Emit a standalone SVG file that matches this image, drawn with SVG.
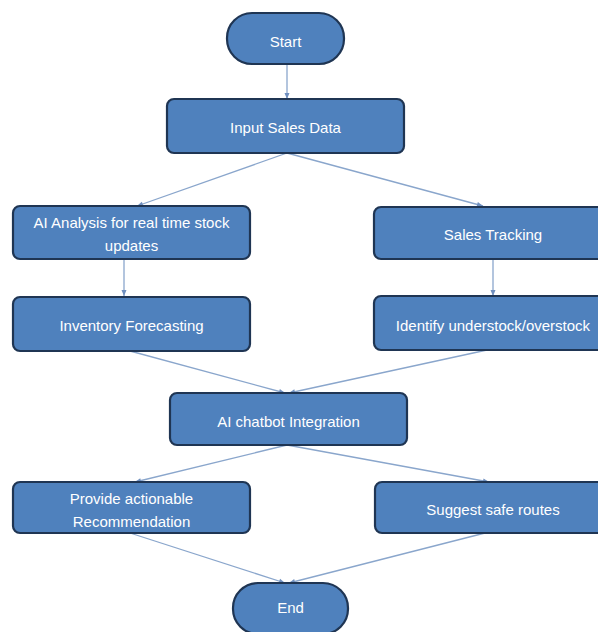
<svg xmlns="http://www.w3.org/2000/svg" width="598" height="632" viewBox="0 0 598 632">
<defs>
<marker id="ah" markerWidth="8" markerHeight="8" refX="7" refY="4" orient="auto" markerUnits="userSpaceOnUse">
<path d="M1,1.5 L7,4 L1,6.5 Z" fill="#6f8fbf"/>
</marker>
<style>
.box{fill:#4f81bd;stroke:#1f3553;stroke-width:2.2}
.t{fill:#ffffff;font-family:"Liberation Sans",Arial,sans-serif;font-size:15px;text-anchor:middle}
.c{stroke:#8aa6cc;stroke-width:1.3;fill:none;marker-end:url(#ah)}
</style>
</defs>
<rect width="598" height="632" fill="#ffffff"/>
<g id="connectors">
<line class="c" x1="287" y1="64" x2="287" y2="99"/>
<line class="c" x1="287" y1="153" x2="137" y2="206"/>
<line class="c" x1="287" y1="153" x2="483" y2="206"/>
<line class="c" x1="124" y1="259" x2="124" y2="296"/>
<line class="c" x1="493" y1="259" x2="493" y2="296"/>
<line class="c" x1="130" y1="351" x2="285" y2="393"/>
<line class="c" x1="487" y1="350" x2="289" y2="393"/>
<line class="c" x1="287" y1="445" x2="135" y2="482"/>
<line class="c" x1="287" y1="445" x2="489" y2="482"/>
<line class="c" x1="130" y1="533" x2="285" y2="583"/>
<line class="c" x1="485" y1="533" x2="289" y2="583"/>
</g>
<g id="start">
<rect class="box" x="227" y="13" width="117" height="51" rx="25"/>
<text class="t" x="285.5" y="47">Start</text>
</g>
<g id="input">
<rect class="box" x="167" y="99" width="237" height="54" rx="7"/>
<text class="t" x="285.5" y="133">Input Sales Data</text>
</g>
<g id="ai-analysis">
<rect class="box" x="13" y="206" width="237" height="53" rx="7"/>
<text class="t" x="131.5" y="228">AI Analysis for real time stock</text>
<text class="t" x="131.5" y="251">updates</text>
</g>
<g id="sales-tracking">
<rect class="box" x="374" y="207" width="237" height="52" rx="7"/>
<text class="t" x="493" y="240">Sales Tracking</text>
</g>
<g id="inventory">
<rect class="box" x="13" y="297" width="237" height="54" rx="7"/>
<text class="t" x="131.5" y="331">Inventory Forecasting</text>
</g>
<g id="identify">
<rect class="box" x="374" y="296" width="237" height="54" rx="7"/>
<text class="t" x="493" y="331">Identify understock/overstock</text>
</g>
<g id="chatbot">
<rect class="box" x="170" y="393" width="237" height="52" rx="7"/>
<text class="t" x="288.5" y="427">AI chatbot Integration</text>
</g>
<g id="provide">
<rect class="box" x="13" y="482" width="237" height="51" rx="7"/>
<text class="t" x="131.5" y="504">Provide actionable</text>
<text class="t" x="131.5" y="527">Recommendation</text>
</g>
<g id="suggest">
<rect class="box" x="375" y="482" width="237" height="51" rx="7"/>
<text class="t" x="493" y="515">Suggest safe routes</text>
</g>
<g id="end">
<rect class="box" x="233" y="583" width="115" height="51" rx="25"/>
<text class="t" x="290.5" y="613">End</text>
</g>
</svg>
